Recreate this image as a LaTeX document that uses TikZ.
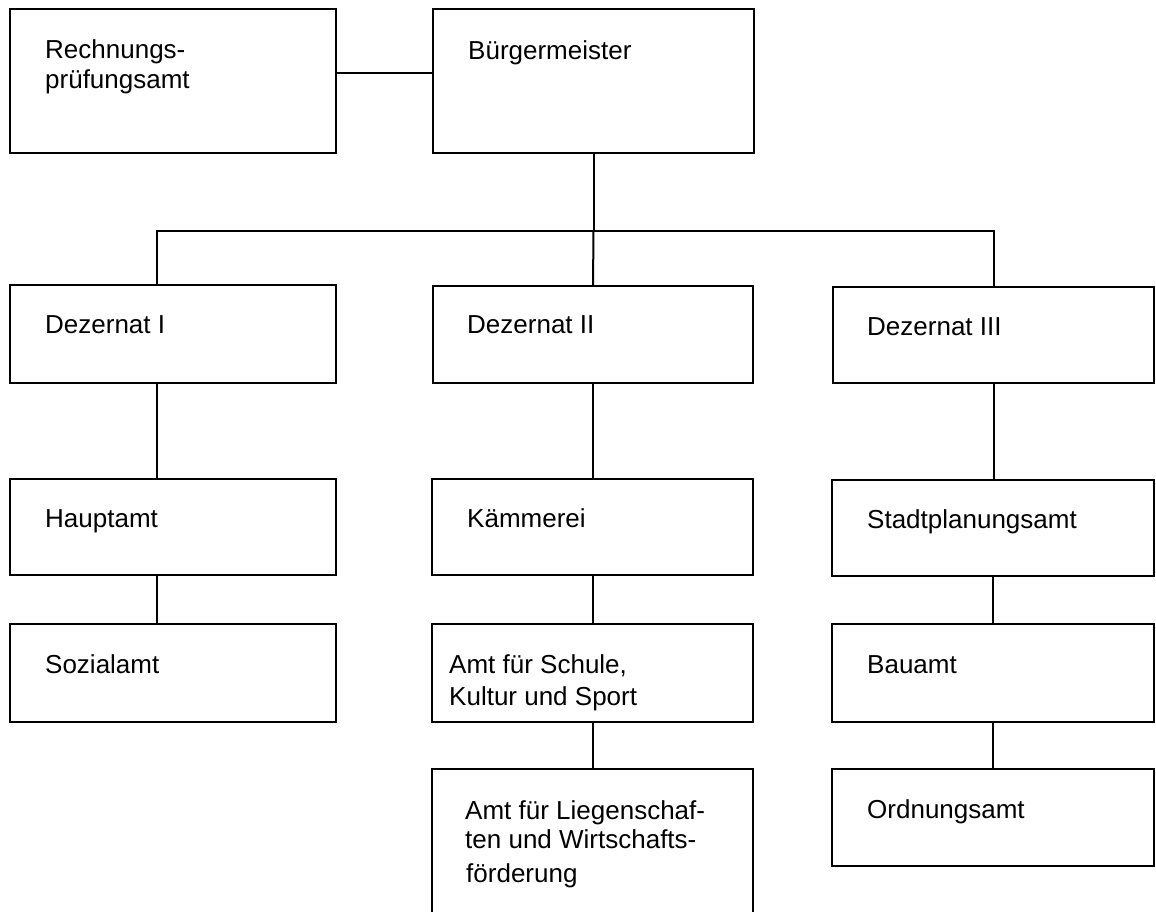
\documentclass[tikz,border=0pt]{standalone}
\usepackage{fontspec}
\setmainfont{Liberation Sans}
\begin{document}
\begin{tikzpicture}[x=1pt,y=-1pt,
  box/.style={draw, line width=2.2pt, rectangle, anchor=north west,
              inner sep=0pt, outer sep=0pt},
  lbl/.style={anchor=base west, inner sep=0pt,
              font=\fontsize{26}{30}\selectfont},
  link/.style={line width=2pt}]
\useasboundingbox (0,0) rectangle (1156,911);
\fill[white] (0,0) rectangle (1156,911);
\clip (0,0) rectangle (1156,911);

% top row
\node[box, minimum width=326pt, minimum height=144pt] (rpa) at (10,9) {};
\node[box, minimum width=321pt, minimum height=144pt] (bm)  at (433,9) {};

% Dezernate
\node[box, minimum width=326pt, minimum height=98pt] (d1) at (10,285) {};
\node[box, minimum width=320pt, minimum height=97pt] (d2) at (433,286) {};
\node[box, minimum width=321pt, minimum height=96pt] (d3) at (833,287) {};

% Aemter, column I
\node[box, minimum width=326pt, minimum height=96pt] (ha) at (10,479) {};
\node[box, minimum width=326pt, minimum height=98pt] (so) at (10,624) {};

% Aemter, column II
\node[box, minimum width=321pt, minimum height=96pt] (ka)  at (432,479) {};
\node[box, minimum width=321pt, minimum height=98pt] (sch) at (432,624) {};
\node[box, minimum width=321pt, minimum height=170pt] (lg) at (432,769) {};

% Aemter, column III
\node[box, minimum width=322pt, minimum height=96pt] (sp) at (832,480) {};
\node[box, minimum width=322pt, minimum height=98pt] (ba) at (832,624) {};
\node[box, minimum width=322pt, minimum height=97pt] (om) at (832,769) {};

% labels
\node[lbl] (rpa-t1) at ([shift={(35,49)}]rpa.north west) {Rechnungs-};
\node[lbl] (rpa-t2) at ([shift={(35,79)}]rpa.north west) {prüfungsamt};
\node[lbl] (bm-t)   at ([shift={(35,50)}]bm.north west) {Bürgermeister};
\node[lbl] (d1-t)   at ([shift={(35,48)}]d1.north west) {Dezernat I};
\node[lbl] (d2-t)   at ([shift={(34,47)}]d2.north west) {Dezernat II};
\node[lbl] (d3-t)   at ([shift={(34,48)}]d3.north west) {Dezernat III};
\node[lbl] (ha-t)   at ([shift={(35,48)}]ha.north west) {Hauptamt};
\node[lbl] (so-t)   at ([shift={(35,49)}]so.north west) {Sozialamt};
\node[lbl] (ka-t)   at ([shift={(35,48)}]ka.north west) {Kämmerei};
\node[lbl] (sch-t1) at ([shift={(17,49)}]sch.north west) {Amt für Schule,};
\node[lbl] (sch-t2) at ([shift={(17,81)}]sch.north west) {Kultur und Sport};
\node[lbl] (lg-t1)  at ([shift={(33,50)}]lg.north west) {Amt für Liegenschaf-};
\node[lbl] (lg-t2)  at ([shift={(33,79)}]lg.north west) {ten und Wirtschafts-};
\node[lbl] (lg-t3)  at ([shift={(34,113)}]lg.north west) {förderung};
\node[lbl] (sp-t)   at ([shift={(35,48)}]sp.north west) {Stadtplanungsamt};
\node[lbl] (ba-t)   at ([shift={(35,49)}]ba.north west) {Bauamt};
\node[lbl] (om-t)   at ([shift={(35,49)}]om.north west) {Ordnungsamt};

% connectors
\coordinate (busL) at (157,231);
\coordinate (busR) at (d3.north |- busL);
\draw[link] ([yshift=8pt]rpa.east) -- ([yshift=8pt]bm.west);
\draw[link] (bm.south) -- (bm.south |- busL);
\draw[link] (busL |- d1.north) -- (busL) -- (busR) -- (d3.north);
\draw[link] (bm.south |- busL) -- (d2.north);

\draw[link] (busL |- d1.south) -- (busL |- ha.north);
\draw[link] (busL |- ha.south) -- (busL |- so.north);

\draw[link] (d2.south) -- (d2.south |- ka.north);
\draw[link] (ka.south) -- (ka.south |- sch.north);
\draw[link] (sch.south) -- (sch.south |- lg.north);

\draw[link] (d3.south) -- (d3.south |- sp.north);
\draw[link] (sp.south) -- (sp.south |- ba.north);
\draw[link] (ba.south) -- (ba.south |- om.north);
\end{tikzpicture}
\end{document}
